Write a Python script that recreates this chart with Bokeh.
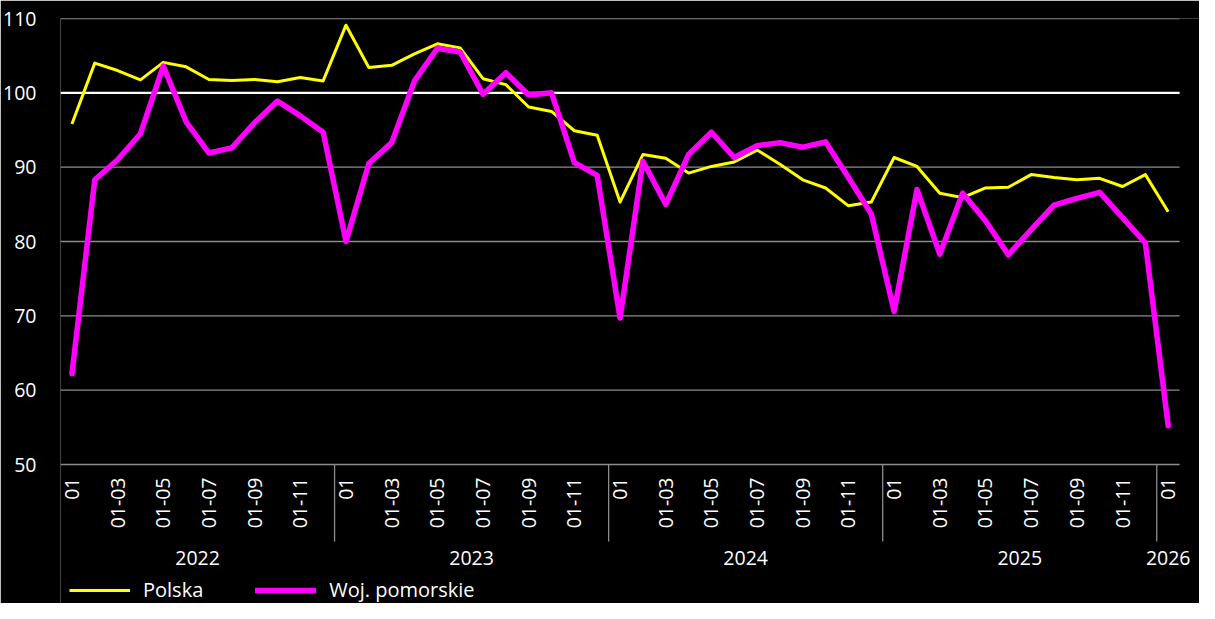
import math
from bokeh.plotting import figure
from bokeh.models import FixedTicker, Range1d, Legend, LegendItem
from bokeh.core.properties import value
from bokeh.embed import file_html
from bokeh.resources import INLINE

# ---- data ----
years = [2022] * 12 + [2023] * 12 + [2024] * 12 + [2025] * 12 + [2026]
months = list(range(1, 13)) * 4 + [1]

polska = [95.8, 104.0, 103.0, 101.75, 104.1, 103.5, 101.8, 101.65, 101.8, 101.5, 102.05, 101.6,
          109.1, 103.4, 103.7, 105.25, 106.6, 106.05, 101.9, 101.1, 98.1, 97.5, 94.9, 94.3,
          85.3, 91.7, 91.2, 89.2, 90.1, 90.7, 92.3, 90.4, 88.3, 87.2, 84.8, 85.3,
          91.3, 90.1, 86.5, 85.9, 87.2, 87.3, 89.0, 88.6, 88.3, 88.5, 87.4, 89.0,
          84.0]
pomorskie = [62.2, 88.3, 91.0, 94.5, 103.6, 96.1, 91.9, 92.6, 96.0, 98.9, 96.9, 94.7,
             80.0, 90.5, 93.3, 101.6, 106.0, 105.5, 99.8, 102.7, 99.7, 100.0, 90.6, 88.9,
             69.7, 90.8, 85.0, 91.7, 94.7, 91.3, 92.9, 93.3, 92.7, 93.4, 88.6, 83.7,
             70.6, 87.0, 78.3, 86.5, 82.8, 78.2, 81.6, 84.9, 85.8, 86.6, 83.2, 79.8,
             55.2]
series_names = ["Polska", "Woj. pomorskie"]
y_ticks = [50, 60, 70, 80, 90, 100, 110]
reference_level = 100

FONT = "Open Sans"
TXT = "#ffffff"
GRID = "#8c8c8c"
FS = "19.5px"

x = list(range(len(months)))
n = len(x)


def month_label(m):
    return "01" if m == 1 else f"01-{m:02d}"


label_idx = [i for i, m in enumerate(months) if m % 2 == 1]
label_txt = [month_label(months[i]) for i in label_idx]

# year groups
groups = []
for i, yv in enumerate(years):
    if not groups or groups[-1][0] != yv:
        groups.append([yv, i, i])
    else:
        groups[-1][2] = i
separators = [g[2] + 0.5 for g in groups[:-1]]
centers = [(g[1] + g[2]) / 2 for g in groups]
year_txt = [str(g[0]) for g in groups]

# layout (pixels)
fig_w, fig_h = 1199, 603
frame_left, frame_top = 54, 18
plot_w = 1125                      # width of the category band
value_px = 446                     # pixel height of the 50..110 band
sep_px = 77                        # separator length below the axis line
frame_h = fig_h - frame_top
px_per_unit = value_px / (y_ticks[-1] - y_ticks[0])
px_per_cat = plot_w / n
x_lo, x_band_hi = -0.5, n - 0.5
x_hi = x_lo + (fig_w - frame_left) / px_per_cat
y_lo = y_ticks[0] - (frame_h - value_px) / px_per_unit
y_sep_end = y_ticks[0] - sep_px / px_per_unit

p = figure(width=fig_w, height=fig_h,
           x_range=Range1d(x_lo, x_hi), y_range=Range1d(y_lo, y_ticks[-1]),
           output_backend="svg", toolbar_location=None, x_axis_location=None,
           background_fill_color="black", border_fill_color="black",
           outline_line_color=None,
           min_border_left=frame_left, min_border_right=0, min_border_top=frame_top,
           min_border_bottom=0)
p.outline_line_alpha = 0
p.xgrid.grid_line_color = None
p.ygrid.grid_line_color = None

# y axis
for ax in p.yaxis:
    ax.ticker = FixedTicker(ticks=y_ticks)
    ax.axis_line_color = None
    ax.axis_line_alpha = 0
    ax.major_tick_line_color = None
    ax.minor_tick_line_color = None
    ax.major_label_text_color = TXT
    ax.major_label_text_font = FONT
    ax.major_label_text_font_size = FS
    ax.major_label_standoff = 18

# horizontal grid lines over the category band (50 is the axis line)
grid_vals = [t for t in y_ticks if t != reference_level]
p.segment(x0=[x_lo] * len(grid_vals), x1=[x_band_hi] * len(grid_vals),
          y0=grid_vals, y1=grid_vals, line_color=GRID, line_width=1.3)
p.segment(x0=[x_lo], x1=[x_band_hi], y0=[reference_level], y1=[reference_level],
          line_color="white", line_width=2.2)

# month labels under the value band
p.text(x=label_idx, y=[y_ticks[0]] * len(label_idx), text=label_txt,
       angle=math.pi / 2, text_align="right", text_baseline="middle", y_offset=13,
       text_color=TXT, text_font=value(FONT), text_font_size=FS)

# year group separators
p.segment(x0=separators, y0=[y_ticks[0]] * len(separators),
          x1=separators, y1=[y_sep_end] * len(separators),
          line_color=GRID, line_width=1.3)

# year labels
p.text(x=centers, y=[y_ticks[0]] * len(centers), text=year_txt,
       text_align="center", text_baseline="middle", y_offset=93,
       text_color=TXT, text_font=value(FONT), text_font_size=FS)

r1 = p.line(x, polska, line_color="#ffff00", line_width=3, line_join="round")
r2 = p.line(x, pomorskie, line_color="#ff00ff", line_width=5.5, line_join="round", line_cap="round")

legend = Legend(items=[LegendItem(label=series_names[0], renderers=[r1]),
                       LegendItem(label=series_names[1], renderers=[r2])],
                orientation="horizontal", location=(9, 0),
                background_fill_alpha=0, border_line_color=None,
                label_text_color=TXT, label_text_font=FONT, label_text_font_size="20px",
                glyph_width=61, label_standoff=13, spacing=52, padding=0, margin=0)
p.add_layout(legend, "center")

open("out.html", "w").write(file_html(p, INLINE))
